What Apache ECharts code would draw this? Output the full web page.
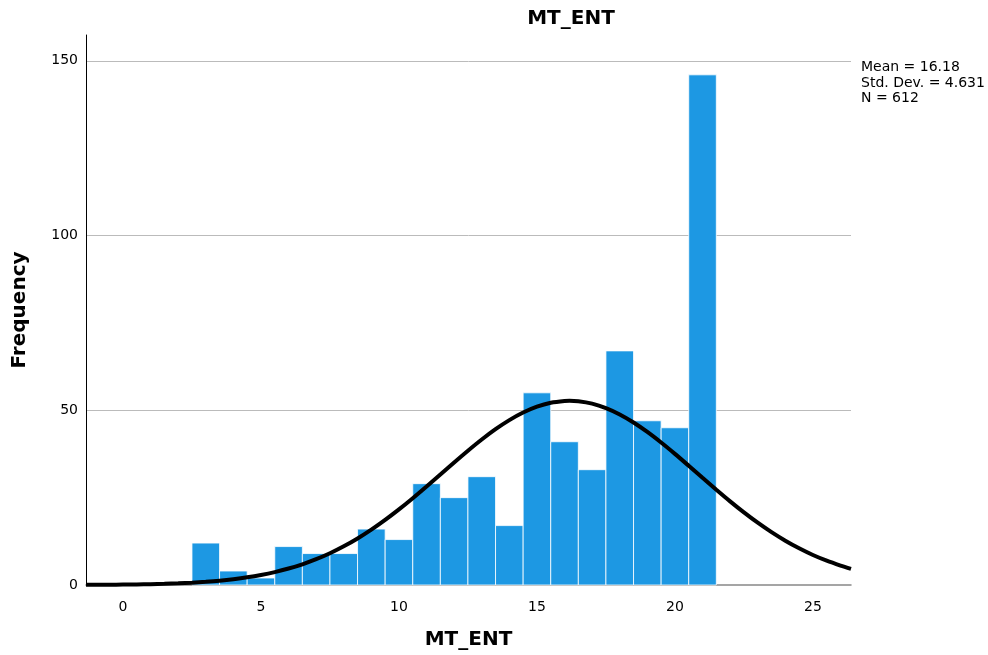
<!DOCTYPE html>
<html>
<head>
<meta charset="utf-8">
<script src="https://cdn.jsdelivr.net/npm/echarts@6/dist/echarts.min.js"></script>
<style>html,body{margin:0;padding:0;background:#fff;}#c{width:988px;height:655px;}</style>
</head>
<body>
<div id="c"></div>
<script>
// Histogram bins (bin centers) and frequencies
var binCenters = [3, 4, 5, 6, 7, 8, 9, 10, 11, 12, 13, 14, 15, 16, 17, 18, 19, 20, 21];
var frequencies = [12, 4, 2, 11, 9, 9, 16, 13, 29, 25, 31, 17, 55, 41, 33, 67, 47, 45, 146];
// Normal curve points
var curveX = [-1.34, -0.5, 0, 0.5, 1, 1.5, 2, 2.5, 3, 3.5, 4, 4.5, 5, 5.5, 6, 6.5, 7, 7.5, 8, 8.5, 9, 9.5, 10, 10.5, 11, 11.5, 12, 12.5, 13, 13.5, 14, 14.5, 15, 15.5, 16, 16.18, 16.5, 17, 17.5, 18, 18.5, 19, 19.5, 20, 20.5, 21, 21.5, 22, 22.5, 23, 23.5, 24, 24.5, 25, 25.5, 26, 26.38];
var curveY = [0.04, 0.08, 0.12, 0.17, 0.25, 0.35, 0.49, 0.67, 0.92, 1.24, 1.66, 2.19, 2.86, 3.69, 4.71, 5.93, 7.39, 9.10, 11.08, 13.33, 15.85, 18.63, 21.64, 24.85, 28.21, 31.64, 35.08, 38.44, 41.64, 44.59, 47.19, 49.36, 51.04, 52.16, 52.68, 52.72, 52.59, 51.90, 50.62, 48.80, 46.51, 43.80, 40.77, 37.52, 34.12, 30.67, 27.25, 23.93, 20.77, 17.82, 15.12, 12.67, 10.50, 8.59, 6.96, 5.57, 4.62];
var statsLines = ['Mean = 16.18', 'Std. Dev. = 4.631', 'N = 612'];
var titleText = 'MT_ENT';
var xName = 'MT_ENT';
var yName = 'Frequency';

var font = 'DejaVu Sans, Liberation Sans, sans-serif';
var chart = echarts.init(document.getElementById('c'), null, {renderer: 'canvas'});

var barData = binCenters.map(function (x, i) { return [x, frequencies[i]]; });
var lineData = curveX.map(function (x, i) { return [x, curveY[i]]; });

chart.setOption({
  animation: false,
  backgroundColor: '#ffffff',
  title: {
    text: titleText, left: 566, top: 4, textAlign: 'center',
    textStyle: {fontFamily: font, fontSize: 20, fontWeight: 'bold', color: '#000'}
  },
  graphic: [{
    type: 'text', left: 861, top: 60,
    style: {text: statsLines.join('\n'), fontFamily: font, fontSize: 14, lineHeight: 15.5, fill: '#000'}
  }],
  grid: {left: 86, right: 137, top: 35, bottom: 69, containLabel: false},
  xAxis: {
    type: 'value', min: -1.34, max: 26.38,
    name: xName, nameLocation: 'middle', nameGap: 45,
    nameTextStyle: {fontFamily: font, fontSize: 20, fontWeight: 'bold', color: '#000'},
    axisLine: {onZero: false, lineStyle: {color: '#888', width: 1.5}},
    axisTick: {show: false},
    splitLine: {show: false},
    axisLabel: {
      fontFamily: font, fontSize: 14, color: '#000', margin: 15,
      showMinLabel: false, showMaxLabel: false,
      formatter: function (v) { return (Math.abs(v % 5) < 1e-9) ? String(v) : ''; }
    }
  },
  yAxis: {
    type: 'value', min: 0, max: 157.4, interval: 50,
    name: yName, nameLocation: 'middle', nameGap: 56,
    nameTextStyle: {fontFamily: font, fontSize: 20, fontWeight: 'bold', color: '#000'},
    axisLine: {show: true, onZero: false, lineStyle: {color: '#000', width: 1}},
    axisTick: {show: false},
    splitLine: {show: true, showMinLine: false, showMaxLine: false, lineStyle: {color: '#bbb', width: 1}},
    axisLabel: {fontFamily: font, fontSize: 14, color: '#000', margin: 8, showMaxLabel: false}
  },
  series: [{
    type: 'custom',
    data: barData,
    renderItem: function (params, api) {
      var x = api.value(0), y = api.value(1);
      var p0 = api.coord([x - 0.5, y]);
      var p1 = api.coord([x + 0.5, 0]);
      return {
        type: 'rect',
        shape: {x: p0[0], y: p0[1], width: p1[0] - p0[0], height: p1[1] - p0[1]},
        style: {fill: '#1d98e3', stroke: '#ffffff', lineWidth: 0.8}
      };
    },
    z: 2
  }, {
    type: 'line',
    data: lineData,
    smooth: 0.3,
    showSymbol: false,
    lineStyle: {color: '#000', width: 4},
    z: 3
  }]
});
</script>
</body>
</html>
